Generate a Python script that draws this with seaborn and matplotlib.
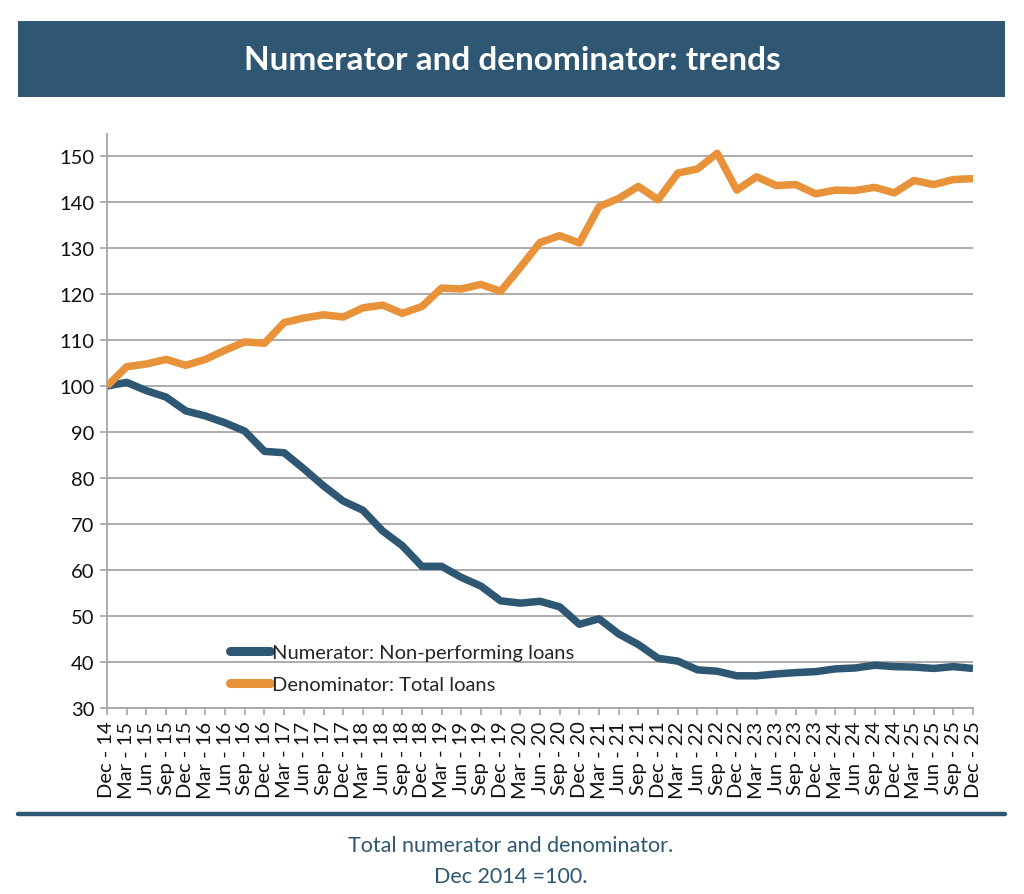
import matplotlib
matplotlib.use("Agg")
import matplotlib.pyplot as plt
import seaborn as sns
import pandas as pd
from matplotlib.patches import Rectangle
from matplotlib.lines import Line2D

periods = ["Dec - 14"]
for yr in range(15, 26):
    for m in ["Mar", "Jun", "Sep", "Dec"]:
        periods.append(f"{m} - {yr}")

numerator = [100, 100.8, 99.0, 97.6, 94.6, 93.5, 92.0, 90.2, 85.8, 85.5, 82.0, 78.3,
             75.0, 73.0, 68.5, 65.3, 60.8, 60.8, 58.4, 56.5, 53.3, 52.8, 53.2, 52.0,
             48.2, 49.4, 46.1, 43.8, 40.8, 40.2, 38.3, 38.0, 37.0, 37.0, 37.4, 37.7,
             37.9, 38.5, 38.7, 39.3, 39.0, 38.9, 38.6, 39.0, 38.6]
denominator = [100, 104.2, 104.8, 105.8, 104.5, 105.8, 107.8, 109.6, 109.3, 113.8, 114.8, 115.5,
               115.0, 117.0, 117.6, 115.8, 117.3, 121.3, 121.1, 122.1, 120.6, 125.8, 131.2, 132.7,
               131.1, 139.0, 140.8, 143.4, 140.5, 146.3, 147.2, 150.6, 142.6, 145.5, 143.6, 143.8,
               141.8, 142.6, 142.5, 143.2, 142.0, 144.7, 143.8, 144.9, 145.1]
series_names = ["Numerator: Non-performing loans", "Denominator: Total loans"]
yticks = list(range(30, 151, 10))

BLUE = "#2E5774"
ORANGE = "#E8923A"

df = pd.DataFrame({
    "idx": list(range(len(periods))) * 2,
    "value": numerator + denominator,
    "series": [series_names[0]] * len(periods) + [series_names[1]] * len(periods),
})

sns.set_style("white")
plt.rcParams["font.family"] = ["Lato", "DejaVu Sans"]

fig = plt.figure(figsize=(10.24, 8.95), dpi=100)
ax = fig.add_axes([107 / 1024, 1 - 709 / 895, (973 - 107) / 1024, (709 - 135) / 895])

sns.lineplot(data=df, x="idx", y="value", hue="series", palette=[BLUE, ORANGE],
             linewidth=5.4, ax=ax, legend=False, solid_capstyle="butt")

ax.set_xlim(0, len(periods) - 1)
ax.set_ylim(30, 154.8)
ax.set_yticks(yticks)
ax.set_yticklabels([str(v) for v in yticks], fontsize=14.5, color="#111111")
ax.set_xticks(range(len(periods)))
ax.set_xticklabels(periods, rotation=90, fontsize=14.5, color="#111111")
ax.set_xlabel("")
ax.set_ylabel("")
ax.grid(axis="y", color="#A6A6A6", linewidth=1.3)
ax.set_axisbelow(True)
for s in ["top", "right"]:
    ax.spines[s].set_visible(False)
for s in ["left", "bottom"]:
    ax.spines[s].set_color("#A6A6A6")
    ax.spines[s].set_linewidth(1.3)
ax.tick_params(axis="both", which="major", length=5, width=1.2, color="#A6A6A6",
               direction="out", pad=4, left=True, bottom=True)

handles = [Line2D([0], [0], color=BLUE, lw=6.5, solid_capstyle="round"),
           Line2D([0], [0], color=ORANGE, lw=6.5, solid_capstyle="round")]
ax.legend(handles, series_names, loc="center left", bbox_to_anchor=(0.142, 0.069),
          frameon=False, fontsize=14.5, handlelength=2.0, handletextpad=0.1,
          labelspacing=0.72, borderaxespad=0, borderpad=0)

# Title banner
fig.patches.append(Rectangle((18 / 1024, 1 - 98 / 895), (1005 - 18) / 1024, 76 / 895,
                             transform=fig.transFigure, facecolor="#2F5773", edgecolor="none"))
fig.text(512 / 1024, 1 - 60 / 895, "Numerator and denominator: trends", color="white",
         fontsize=24, fontweight="bold", ha="center", va="center")

# Bottom rule
fig.add_artist(Line2D([18 / 1024, 1005 / 1024], [1 - 815 / 895, 1 - 815 / 895],
                      transform=fig.transFigure, color="#2F5773", linewidth=3.2))
fig.text(511 / 1024, 1 - 846 / 895, "Total numerator and denominator.", color="#2F5773",
         fontsize=15.5, ha="center", va="center")
fig.text(511 / 1024, 1 - 877 / 895, "Dec 2014 =100.", color="#2F5773",
         fontsize=15.5, ha="center", va="center")

fig.savefig("out.png", dpi=100, facecolor="white")
